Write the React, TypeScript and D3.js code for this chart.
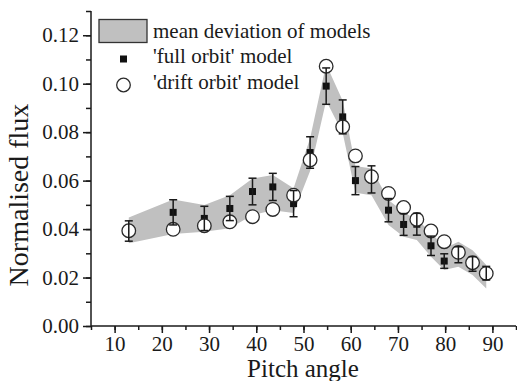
import * as d3 from 'd3';
import { useEffect, useRef } from 'react';

// pitch angle of each bin
const angles = [13, 22.4, 29, 34.4, 39.2, 43.5, 47.9, 51.4, 54.8, 58.3, 61, 64.4, 68, 71.2, 74, 77, 79.8, 82.8, 85.8, 88.7];
// 'full orbit' model with error
const fullOrbit = [0.0392, 0.0469, 0.0444, 0.0485, 0.0555, 0.0574, 0.0505, 0.0716, 0.099, 0.0863, 0.060, 0.0605, 0.0478, 0.0419, 0.042, 0.0331, 0.0268, 0.0294, 0.0256, 0.0218];
const fullErr = [0.0042, 0.0052, 0.005, 0.005, 0.0055, 0.0056, 0.0054, 0.0065, 0.0075, 0.007, 0.0058, 0.0056, 0.0048, 0.0045, 0.0045, 0.004, 0.003, 0.0033, 0.003, 0.0028];
// 'drift orbit' model
const driftOrbit = [0.0393, 0.0399, 0.0414, 0.043, 0.0451, 0.0481, 0.054, 0.0685, 0.1072, 0.0822, 0.0702, 0.0616, 0.0547, 0.0489, 0.044, 0.0392, 0.0348, 0.0304, 0.0261, 0.0217];
// mean deviation band
const bandHigh = [0.0448, 0.0522, 0.0499, 0.054, 0.0609, 0.0623, 0.0568, 0.0775, 0.108, 0.093, 0.066, 0.065, 0.052, 0.047, 0.0437, 0.0389, 0.032, 0.0348, 0.0313, 0.0252];
const bandLow = [0.0341, 0.038, 0.0389, 0.0403, 0.0458, 0.0478, 0.0466, 0.064, 0.093, 0.0796, 0.055, 0.054, 0.0417, 0.0368, 0.0355, 0.0286, 0.0231, 0.0245, 0.021, 0.0155];

const xTicks = [10, 20, 30, 40, 50, 60, 70, 80, 90];
const yTicks = [0, 0.02, 0.04, 0.06, 0.08, 0.1, 0.12];

const legendLabels = ['mean deviation of models', "'full orbit' model", "'drift orbit' model"];

const FONT = "'Liberation Serif', 'Times New Roman', Times, serif";

const App = () => {
  const ref = useRef<SVGSVGElement>(null);

  useEffect(() => {
    const width = 517;
    const height = 381;
    const ink = '#1a1a1a';

    const svg = d3.select(ref.current);
    svg.selectAll('*').remove();
    svg.attr('width', width).attr('height', height).style('font-family', FONT);

    const x = d3.scaleLinear().domain([5, 95]).range([91, 516]);
    const y = d3.scaleLinear().domain([0, 0.13]).range([326, 11]);

    const rows = angles.map((a, i) => ({
      a, full: fullOrbit[i], err: fullErr[i], drift: driftOrbit[i], hi: bandHigh[i], lo: bandLow[i]
    }));

    // grey band
    const area = d3.area<any>().x(d => x(d.a)).y0(d => y(d.lo)).y1(d => y(d.hi));
    svg.append('path').datum(rows).attr('d', area).attr('fill', '#c0c0c0');

    // squares (under the circles)
    svg.append('g').selectAll('rect').data(rows).enter().append('rect')
      .attr('x', d => x(d.a) - 3.5).attr('y', d => y(d.full) - 3.5)
      .attr('width', 7).attr('height', 7).attr('fill', '#111');

    // circles
    svg.append('g').selectAll('circle').data(rows).enter().append('circle')
      .attr('cx', d => x(d.a)).attr('cy', d => y(d.drift)).attr('r', 6.8)
      .attr('fill', '#fff').attr('stroke', '#2a2a2a').attr('stroke-width', 1.3);

    // error bars
    const eb = svg.append('g').attr('stroke', ink).attr('stroke-width', 1.5);
    rows.forEach(d => {
      const cx = x(d.a);
      const t = y(d.full + d.err);
      const b = y(d.full - d.err);
      eb.append('line').attr('x1', cx).attr('x2', cx).attr('y1', t).attr('y2', b);
      eb.append('line').attr('x1', cx - 4).attr('x2', cx + 4).attr('y1', t).attr('y2', t);
      eb.append('line').attr('x1', cx - 4).attr('x2', cx + 4).attr('y1', b).attr('y2', b);
    });

    // y axis
    const yAxis = svg.append('g').attr('transform', 'translate(91,0)');
    yAxis.call(d3.axisLeft(y).tickValues(d3.range(0, 0.1301, 0.01)).tickSize(5).tickFormat(() => ''));
    yAxis.call(g => g.select('.domain').remove());
    const yMajor = svg.append('g').attr('transform', 'translate(91,0)');
    yMajor.call(d3.axisLeft(y).tickValues(yTicks).tickSize(8).tickPadding(4).tickFormat(d3.format('.2f')));
    yMajor.select('.domain').attr('d', `M0,${y(0.13)}V${y(0)}`);

    // x axis
    const xAxis = svg.append('g').attr('transform', 'translate(0,326)');
    xAxis.call(d3.axisBottom(x).tickValues(d3.range(5, 96, 5)).tickSize(4).tickFormat(() => ''));
    xAxis.call(g => g.select('.domain').remove());
    const xMajor = svg.append('g').attr('transform', 'translate(0,326)');
    xMajor.call(d3.axisBottom(x).tickValues(xTicks).tickSize(7).tickPadding(3).tickFormat(d3.format('d')));
    xMajor.select('.domain').attr('d', `M${x(5)},0H${x(95)}`);

    svg.selectAll('g').attr('font-family', null);
    yMajor.selectAll('text').style('font-size', '21px').style('font-family', FONT).attr('fill', ink);
    xMajor.selectAll('text').style('font-size', '21px').style('font-family', FONT).attr('fill', ink);
    svg.selectAll('.domain, .tick line').attr('stroke', ink).attr('stroke-width', 1.5);

    // axis titles
    svg.append('text').attr('x', 303).attr('y', 377).attr('text-anchor', 'middle')
      .style('font-family', FONT).style('font-size', '25px').attr('fill', ink).text('Pitch angle');
    svg.append('text').attr('transform', 'translate(28,195) rotate(-90)').attr('text-anchor', 'middle')
      .style('font-family', FONT).style('font-size', '28px').attr('fill', ink).text('Normalised flux');

    // legend
    const lg = svg.append('g');
    lg.append('rect').attr('x', 99).attr('y', 19.5).attr('width', 48).attr('height', 23)
      .attr('fill', '#c0c0c0').attr('stroke', '#333').attr('stroke-width', 1.3);
    lg.append('rect').attr('x', 120).attr('y', 55.5).attr('width', 7).attr('height', 7).attr('fill', '#111');
    lg.append('circle').attr('cx', 123.5).attr('cy', 85).attr('r', 6.8)
      .attr('fill', '#fff').attr('stroke', '#2a2a2a').attr('stroke-width', 1.3);
    [38, 63, 89].forEach((by, i) => {
      lg.append('text').attr('x', 153).attr('y', by).style('font-family', FONT)
        .style('font-size', '21px').attr('fill', ink).text(legendLabels[i]);
    });
  }, []);

  return (
    <div style={{ position: 'absolute', left: 0, top: 0 }}>
      <svg ref={ref}></svg>
    </div>
  );
};

export default App;
